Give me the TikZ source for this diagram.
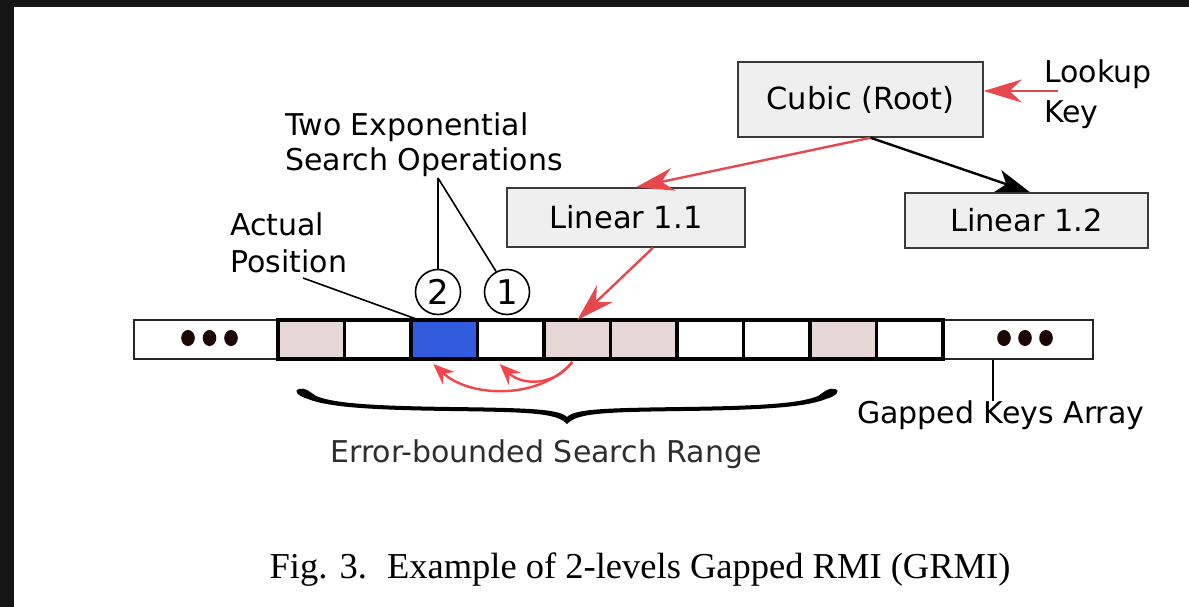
\documentclass[tikz,border=0pt]{standalone}
\usepackage{fontspec}
\setmainfont{DejaVu Sans}
\newfontfamily\capfont{Liberation Serif}
\usetikzlibrary{arrows.meta}
\definecolor{boxgray}{HTML}{EFEFEF}
\definecolor{edgegray}{HTML}{3A3A3A}
\definecolor{keypink}{HTML}{E7D7D7}
\definecolor{hitblue}{HTML}{2F5BDC}
\definecolor{arrowred}{HTML}{E5484D}
\definecolor{hopred}{HTML}{F2464B}
\definecolor{rangegray}{HTML}{2E2E2E}
\definecolor{dotdark}{HTML}{1C0606}
\definecolor{framedark}{HTML}{161616}

\begin{document}
\begin{tikzpicture}[x=1pt,y=-1pt,
  lbl/.style={font=\fontsize{30}{36}\selectfont, inner sep=0pt, align=left},
  model/.style={draw=edgegray, line width=1.5pt, fill=boxgray,
    font=\fontsize{30.5}{36}\selectfont, inner sep=0pt},
  cellbox/.style={draw=black, line width=3.4pt, minimum width=66.5pt,
    minimum height=39pt, inner sep=0pt, outer sep=0pt},
  gapcell/.style={cellbox, fill=white},
  keycell/.style={cellbox, fill=keypink},
  hitcell/.style={cellbox, fill=hitblue},
  endcell/.style={draw=black!85, line width=2.3pt, minimum height=39pt,
    inner sep=0pt, fill=white},
  numcircle/.style={circle, draw=black, line width=1.6pt, minimum size=45pt,
    inner sep=0pt, font=\fontsize{34}{36}\selectfont},
  redarrow/.style={draw=arrowred, line width=2.4pt,
    -{Stealth[length=38pt,width=23pt,inset=12pt]}},
  blackarrow/.style={draw=black, line width=2.4pt,
    -{Stealth[length=34pt,width=23pt,inset=9pt]}},
  hoparrow/.style={draw=hopred, line width=2.4pt,
    -{Stealth[length=21pt,width=17pt,inset=7pt]}},
  pointer/.style={draw=black, line width=1.6pt}
]
\useasboundingbox (0,0) rectangle (1189,607);
\fill[white] (0,0) rectangle (1189,607);
% dark frame along the top and left edges
\fill[framedark] (0,0) rectangle (1189,7);
\fill[framedark] (0,0) rectangle (14,607);

% learned models
\node[model, minimum width=245pt, minimum height=75pt] (root) at (860.5,99.5) {Cubic (Root)};
\node[model, minimum width=238pt, minimum height=59pt] (lin11) at (626,217.5) {Linear 1.1};
\node[model, minimum width=243pt, minimum height=55pt] (lin12) at (1026.5,220.5) {Linear 1.2};

% lookup key
\node[lbl, anchor=north west, execute at begin node={\setlength{\baselineskip}{40pt}}] (lookup) at (1044,60) {Lookup\\Key};
\coordinate (keystart) at (1058,91);

% gapped keys array
\node[endcell, minimum width=144pt] (c0) at (206,339.5) {};
\node[endcell, minimum width=150pt] (c11) at (1018,339.5) {};
\node[keycell] (c1) at (311.25,339.5) {};
\node[gapcell] (c2) at (377.75,339.5) {};
\node[hitcell] (c3) at (444.25,339.5) {};
\node[gapcell] (c4) at (510.75,339.5) {};
\node[keycell] (c5) at (577.25,339.5) {};
\node[keycell] (c6) at (643.75,339.5) {};
\node[gapcell] (c7) at (710.25,339.5) {};
\node[gapcell] (c8) at (776.75,339.5) {};
\node[keycell] (c9) at (843.25,339.5) {};
\node[gapcell] (c10) at (909.75,339.5) {};
\foreach \dx in {-18,3.5,25}
  \fill[dotdark] ([xshift=\dx pt, yshift=1.5pt]c0.center) ellipse [x radius=6.8pt, y radius=8pt];
\foreach \dx in {-14,7,28}
  \fill[dotdark] ([xshift=\dx pt, yshift=1.5pt]c11.center) ellipse [x radius=6.8pt, y radius=8pt];

% search operation markers
\node[numcircle] (n2) at (438,292) {2};
\node[numcircle] (n1) at (507,292) {1};

% labels
\node[lbl, anchor=north west, execute at begin node={\setlength{\baselineskip}{35pt}}] (ops) at (285,113) {Two Exponential\\Search Operations};
\coordinate (opsfoot) at (438,178);
\node[lbl, anchor=north west, execute at begin node={\setlength{\baselineskip}{37pt}}] (actual) at (230,213) {Actual\\Position};
\coordinate (actualfoot) at (303,278);
\node[lbl, anchor=base west] (gka) at (857,423) {Gapped Keys Array};
\coordinate (gkatop) at (993,401);
\node[lbl, anchor=base, text=rangegray] (range) at (546,462) {Error-bounded Search Range};

% model traversal
\draw[redarrow] (keystart) -- ([yshift=8.5pt]root.east);
\draw[redarrow] ([xshift=10pt]root.south) -- ([xshift=10pt]lin11.north);
\draw[blackarrow] ([xshift=10pt]root.south) -- ([xshift=3.5pt]lin12.north);
\draw[redarrow] ([xshift=27pt]lin11.south) -- (c5.north);

% exponential search hops
\draw[hoparrow] ([xshift=-5pt,yshift=-3pt]c5.south) .. controls (540,400) and (470,398) .. ([xshift=-11pt,yshift=-5pt]c3.south);
\draw[hoparrow] ([xshift=-5pt,yshift=-3pt]c5.south) .. controls (555,386) and (522,386) .. ([xshift=-11pt,yshift=-5pt]c4.south);

% label pointers
\draw[pointer] (opsfoot) -- (n2.north);
\draw[pointer] (opsfoot) -- (n1.118);
\draw[pointer] (actualfoot) -- ([xshift=8pt]c3.north west);
\draw[pointer] ([xshift=-25pt]c11.south) -- (gkatop);

% brace under the search range, with teardrop ends
\fill[black] (567,424) .. controls (557,413) and (530,412) .. (450,411)
  .. controls (380,410) and (330,408) .. (308,399)
  .. controls (298,396) and (293,391) .. (299,389)
  .. controls (305,387) and (310,392) .. (316,396)
  .. controls (335,404) and (380,406) .. (450,407)
  .. controls (530,408) and (559,409) .. (567,417)
  .. controls (575,409) and (604,408) .. (684,407)
  .. controls (754,406) and (799,404) .. (818,396)
  .. controls (824,392) and (829,387) .. (835,389)
  .. controls (841,391) and (836,396) .. (826,399)
  .. controls (804,408) and (754,410) .. (684,411)
  .. controls (604,412) and (577,413) .. (567,424) -- cycle;

% caption
\node[anchor=base, inner sep=0pt, font=\capfont\fontsize{36.5}{40}\selectfont] (caption) at (640,578)
  {Fig. 3.\hspace{0.55em}Example of 2-levels Gapped RMI (GRMI)};
\end{tikzpicture}
\end{document}
